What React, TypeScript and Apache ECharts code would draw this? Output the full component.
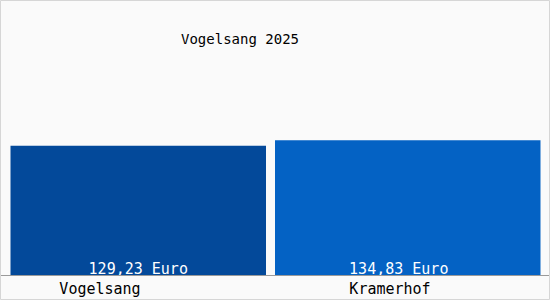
import React, { useEffect, useRef } from "react";
import * as echarts from "echarts";

const title = "Vogelsang 2025";
const categories = ["Vogelsang", "Kramerhof"];
const values = [129.23, 134.83];
const colors = ["#03499a", "#0462c4"];
const unit = "Euro";

export default function App() {
  const ref = useRef<HTMLDivElement>(null);
  useEffect(() => {
    if (!ref.current) return;
    const chart = echarts.init(ref.current, null, { renderer: "svg" });
    const font = "'DejaVu Sans Mono', monospace";
    const fmt = (v: number) => v.toFixed(2).replace(".", ",") + " " + unit;
    const series = values.map((v, i) => ({
      type: "bar",
      name: categories[i],
      data: values.map((_, j) => (j === i ? v : "-")),
      barWidth: i === 0 ? 256 : 266,
      barGap: "-100%",
      itemStyle: { color: colors[i] },
      label: {
        show: true,
        position: "insideBottom",
        distance: -1,
        color: "#ffffff",
        fontFamily: font,
        fontSize: 15,
        padding: i === 0 ? [0, 0, 0, 0] : [0, 18, 0, 0],
        formatter: (p: any) => fmt(p.value),
      },
    }));
    chart.setOption({
      animation: false,
      backgroundColor: "#fafafa",
      title: {
        text: title,
        left: 181,
        top: 32,
        padding: 0,
        textStyle: { fontFamily: font, fontSize: 14, fontWeight: "normal", color: "#000" },
      },
      grid: { left: 10.5, right: 9.5, top: 75, bottom: 25 },
      xAxis: {
        type: "category",
        data: categories,
        axisLine: { show: false },
        axisTick: { show: false },
        axisLabel: {
          margin: 6,
          fontFamily: font,
          fontSize: 15,
          color: "#000",
          formatter: (v: string, i: number) => `{c${i}|${v}}`,
          rich: {
            c0: { fontFamily: font, fontSize: 15, color: "#000", padding: [0, 86, 0, 0] },
            c1: { fontFamily: font, fontSize: 15, color: "#000", padding: [0, 36, 0, 0] },
          },
        },
      },
      yAxis: { type: "value", min: 0, max: 200, show: false, splitLine: { show: false } },
      series,
      graphic: [
        {
          type: "line",
          shape: { x1: 1, y1: 275.5, x2: 549, y2: 275.5 },
          style: { stroke: "#9a9a9a", lineWidth: 1 },
          z: 10,
        },
        {
          type: "rect",
          shape: { x: 0.5, y: 0.5, width: 549, height: 299 },
          style: { fill: "none", stroke: "#d6d6d6", lineWidth: 1 },
          z: 10,
        },
      ],
    });
    return () => chart.dispose();
  }, []);
  return (
    <div
      ref={ref}
      style={{ position: "fixed", left: 0, top: 0, width: 550, height: 300 }}
    />
  );
}
